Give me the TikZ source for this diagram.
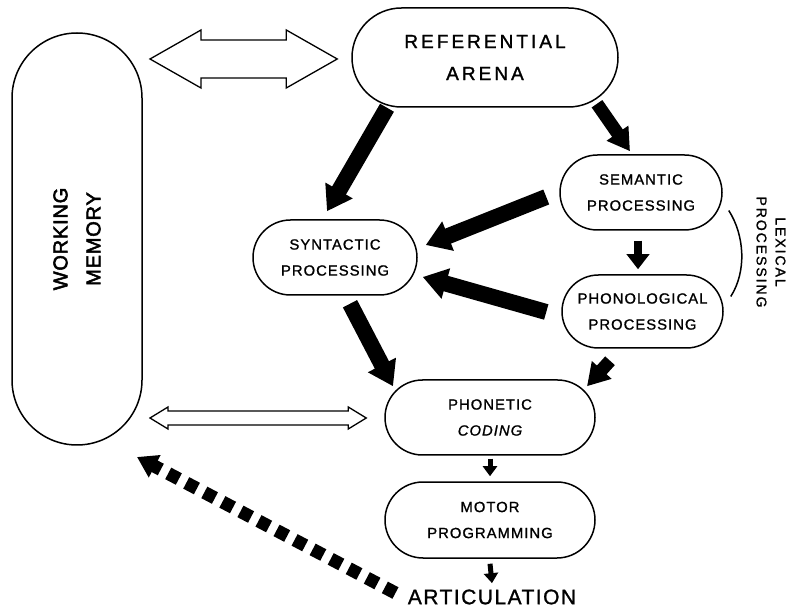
\documentclass[tikz,border=0pt]{standalone}
\usepackage{fontspec}
\setmainfont{Liberation Sans}
\newfontfamily\boxfont{Liberation Sans}[LetterSpace=7,FakeBold=1.2]
\newfontfamily\widefont{Liberation Sans}[LetterSpace=16,FakeBold=1.4]
\newfontfamily\memfont{Liberation Sans}[LetterSpace=4,FakeBold=2.6]
\newfontfamily\lexfont{Liberation Sans}[LetterSpace=14,FakeBold=1.4]
\newfontfamily\artfont{Liberation Sans}[LetterSpace=7,FakeBold=1.2]
\usetikzlibrary{shapes.misc,arrows.meta,calc,positioning}

\tikzset{
  stage/.style={draw, line width=0.75pt, rounded rectangle, align=center,
    inner sep=0pt, font=\boxfont\fontsize{7.4}{13}\selectfont},
  hollow/.style={draw, line width=0.65pt, fill=white, line join=miter},
  thickflow/.style={line width=8pt, -{Triangle[length=12pt,width=15pt]}},
  midflow/.style={line width=6.5pt, -{Triangle[length=11pt,width=12.5pt]}},
  smallflow/.style={line width=4pt, -{Triangle[length=7.5pt,width=11pt]}},
  tinyflow/.style={line width=2.5pt, -{Triangle[length=5pt,width=7pt]}},
  feedback/.style={line width=6.5pt, dash pattern=on 6pt off 4.2pt,
    -{Triangle[length=10pt,width=12pt]}},
}

% hollow double arrow between two tips: shaft half, head half, head length
\newcommand{\hollowarrow}[5]{%
  \draw[hollow] (#1) -- ($(#1)+(#5,-#4)$) -- ($(#1)+(#5,-#3)$)
    -- ($(#2)+(-#5,-#3)$) -- ($(#2)+(-#5,-#4)$) -- (#2)
    -- ($(#2)+(-#5,#4)$) -- ($(#2)+(-#5,#3)$)
    -- ($(#1)+(#5,#3)$) -- ($(#1)+(#5,#4)$) -- cycle;}

\begin{document}
\begin{tikzpicture}[x=0.5pt,y=-0.5pt]
  \useasboundingbox (0,0) rectangle (787,614);

  % Stages
  \node[stage, rotate=90, minimum width=206pt, minimum height=65pt,
    font=\memfont\fontsize{10}{16.5}\selectfont] (wm) at (77,239) {WORKING\\MEMORY};
  \node[stage, minimum width=133pt, minimum height=49.5pt,
    font=\widefont\fontsize{9.5}{16}\selectfont] (ref) at (485,57.5) {REFERENTIAL\\ARENA};
  \node[stage, minimum width=81pt, minimum height=37.5pt] (sem) at (641,192.5) {SEMANTIC\\PROCESSING};
  \node[stage, minimum width=80.5pt, minimum height=36.5pt] (pho) at (642.5,311.5) {PHONOLOGICAL\\PROCESSING};
  \node[stage, minimum width=82pt, minimum height=37.5pt] (syn) at (335,257.5) {SYNTACTIC\\PROCESSING};
  \node[stage, minimum width=105pt, minimum height=37.5pt] (phon) at (490,417.5) {PHONETIC\\\itshape CODING};
  \node[stage, minimum width=105pt, minimum height=38pt] (mot) at (490,520) {MOTOR\\PROGRAMMING};
  \node[inner sep=1pt, font=\artfont\fontsize{10.5}{12}\selectfont] (art) at (492,597) {ARTICULATION};
  \node[rotate=-90, align=center, font=\lexfont\fontsize{7}{9.5}\selectfont] (lex) at (771,252) {LEXICAL\\PROCESSING};

  % Lexical bracket
  \draw[line width=0.75pt] ([shift={(6,18)}]sem.east) .. controls +(16,25) and +(16,-25) .. ([shift={(7,-15)}]pho.east);

  % Hollow links to working memory
  \coordinate (bigL) at ([shift={(73,-180)}]wm.center);
  \coordinate (bigR) at ([shift={(-14,1.5)}]ref.west);
  \coordinate (smallL) at ([shift={(73,179)}]wm.center);
  \coordinate (smallR) at ([shift={(-18,0.5)}]phon.west);
  \hollowarrow{bigL}{bigR}{19}{29}{51}
  \hollowarrow{smallL}{smallR}{7}{11}{18}

  % Black flow arrows
  \draw[thickflow] ([shift={(-98,0)}]ref.south) -- ([shift={(-8,-8)}]syn.north);
  \draw[midflow] ([shift={(112,-4)}]ref.south) -- ([shift={(-11,-3)}]sem.north);
  \draw[thickflow] ([shift={(-13,4.5)}]sem.west) -- ([shift={(8,-12.5)}]syn.east);
  \draw[thickflow] ([shift={(-15,0.5)}]pho.west) -- ([shift={(5,19.5)}]syn.east);
  \draw[smallflow] ([shift={(-3,10)}]sem.south) -- ([shift={(-4.5,-5)}]pho.north);
  \draw[thickflow] ([shift={(15,8)}]syn.south) -- ([shift={(-97,7)}]phon.north);
  \draw[midflow] ([shift={(-32.5,12)}]pho.south) -- ([shift={(97,7)}]phon.north);
  \draw[tinyflow] ([shift={(0,3)}]phon.south) -- ([shift={(0,-5)}]mot.north);
  \draw[tinyflow] ([shift={(0,5)}]mot.south) -- ([shift={(0,-4)}]art.north);

  % Feedback from articulation
  \draw[feedback] ([shift={(-10,-4)}]art.west) -- ([shift={(60,218)}]wm.center);
\end{tikzpicture}
\end{document}
